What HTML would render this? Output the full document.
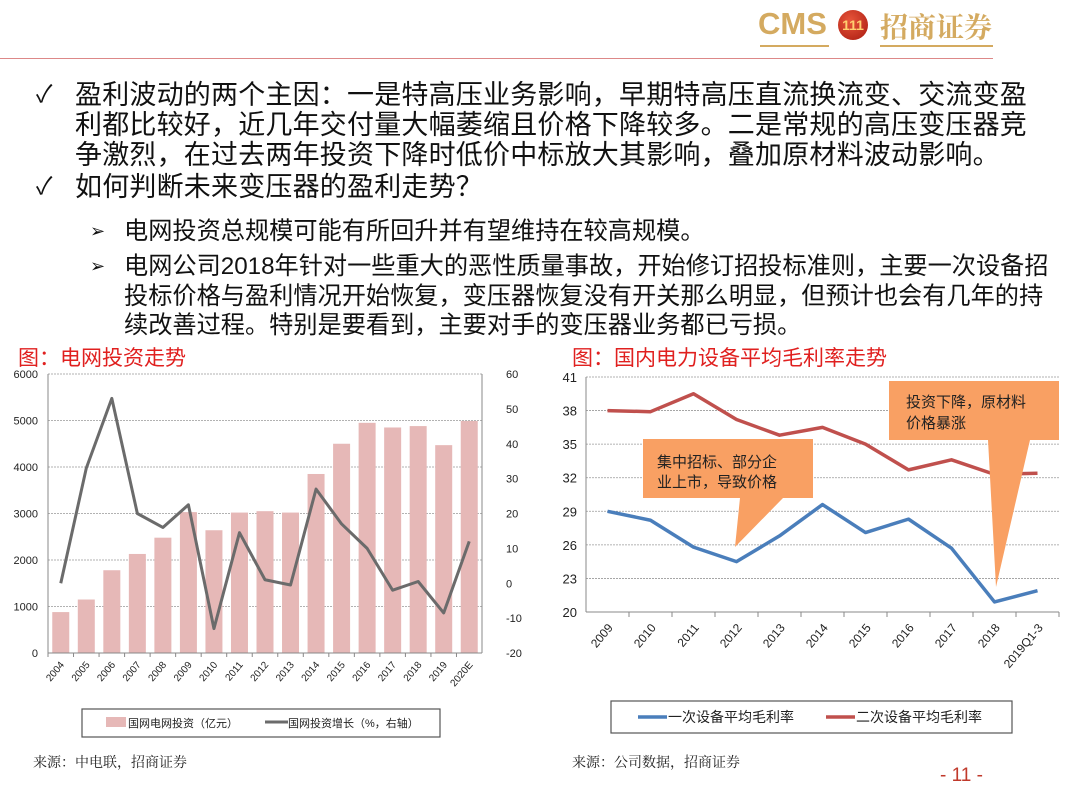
<!DOCTYPE html>
<html><head><meta charset="utf-8">
<style>
body{margin:0;width:1080px;height:794px;background:#fff;position:relative;overflow:hidden;font-family:"Liberation Sans","Noto Sans CJK SC",sans-serif;}
.abs{position:absolute;white-space:nowrap;}
.main{font-size:27px;color:#111;line-height:30px;letter-spacing:0.2px;}
.sub{font-size:24.2px;color:#111;line-height:29.5px;}
.red{color:#e0201f;font-size:21px;}
.src{font-size:14px;color:#222;font-family:"Liberation Serif","Noto Serif CJK SC",serif;}
</style></head><body>
<div class="abs" style="left:758px;top:4px;height:44px;">
 <span style="font-size:31px;font-weight:bold;color:#d4aa60;position:absolute;left:0;top:2px;">CMS</span>
 <span style="position:absolute;left:80px;top:6px;width:30px;height:30px;border-radius:50%;background:radial-gradient(circle at 40% 35%,#e8553a,#a81a10);color:#ffd070;font-size:14px;font-weight:bold;text-align:center;line-height:30px;">111</span>
 <span style="font-size:28px;font-weight:bold;color:#d4aa60;position:absolute;left:122px;top:2px;font-family:'Noto Serif CJK SC',serif;">招商证券</span>
 <div style="position:absolute;left:2px;top:41px;width:69px;height:2px;background:#d4aa60"></div>
 <div style="position:absolute;left:122px;top:41px;width:113px;height:2px;background:#d4aa60"></div>
</div>
<div class="abs" style="left:0;top:58px;width:993px;height:1px;background:#d88"></div>

<div class="abs main" style="left:36px;top:80px;font-size:24px;">✓</div>
<div class="abs main" style="left:75px;top:80px;">盈利波动的两个主因：一是特高压业务影响，早期特高压直流换流变、交流变盈<br>利都比较好，近几年交付量大幅萎缩且价格下降较多。二是常规的高压变压器竞<br>争激烈，在过去两年投资下降时低价中标放大其影响，叠加原材料波动影响。</div>
<div class="abs main" style="left:36px;top:172px;font-size:24px;">✓</div>
<div class="abs main" style="left:75px;top:172px;">如何判断未来变压器的盈利走势？</div>
<div class="abs sub" style="left:90px;top:217px;font-size:18px;">➢</div>
<div class="abs sub" style="left:124px;top:217px;">电网投资总规模可能有所回升并有望维持在较高规模。</div>
<div class="abs sub" style="left:90px;top:252px;font-size:18px;">➢</div>
<div class="abs sub" style="left:124px;top:252px;">电网公司2018年针对一些重大的恶性质量事故，开始修订招投标准则，主要一次设备招<br>投标价格与盈利情况开始恢复，变压器恢复没有开关那么明显，但预计也会有几年的持<br>续改善过程。特别是要看到，主要对手的变压器业务都已亏损。</div>

<div class="abs red" style="left:18px;top:342px;">图：电网投资走势</div>
<div class="abs red" style="left:572px;top:342px;">图：国内电力设备平均毛利率走势</div>

<svg class="abs" style="left:0;top:0" width="1080" height="794" id="charts"></svg>

<div class="abs src" style="left:33px;top:752px;">来源：中电联，招商证券</div>
<div class="abs src" style="left:572px;top:752px;">来源：公司数据，招商证券</div>
<div class="abs" style="left:940px;top:765px;font-size:19px;color:#c0392b;">- 11 -</div>

<script>
const years=["2004","2005","2006","2007","2008","2009","2010","2011","2012","2013","2014","2015","2016","2017","2018","2019","2020E"];
const invest=[880,1150,1780,2130,2480,3030,2640,3020,3050,3020,3850,4500,4950,4850,4880,4470,4990];
const growth=[0,33,53,20,16,22.5,-13,14.5,1,-0.5,27,17,10,-2,0.5,-8.5,12];
const leftTicks=[0,1000,2000,3000,4000,5000,6000];
const rightTicks=[-20,-10,0,10,20,30,40,50,60];
const cats2=["2009","2010","2011","2012","2013","2014","2015","2016","2017","2018","2019Q1-3"];
const primary=[29.0,28.2,25.8,24.5,26.8,29.6,27.1,28.3,25.7,20.9,21.9];
const secondary=[38.0,37.9,39.5,37.2,35.8,36.5,35.0,32.7,33.6,32.3,32.4];
const marginTicks=[20,23,26,29,32,35,38,41];

const svg=document.getElementById('charts');
const NS='http://www.w3.org/2000/svg';
function mk(tag,attrs,parent){const e=document.createElementNS(NS,tag);for(const k in attrs)e.setAttribute(k,attrs[k]);(parent||svg).appendChild(e);return e;}
function txt(x,y,s,attrs){const t=mk('text',Object.assign({x:x,y:y,'font-size':11,fill:'#222','font-family':'Liberation Sans, Noto Sans CJK SC, sans-serif'},attrs||{}));t.textContent=s;return t;}

// ---- Left chart
const L={x0:48,x1:482,y0:653,y1:374};
const ly=v=>L.y0-(v-0)/6000*(L.y0-L.y1);
const ry=v=>L.y0-(v+20)/80*(L.y0-L.y1);
const bw=(L.x1-L.x0)/years.length;
const lx=i=>L.x0+bw*(i+0.5);
leftTicks.forEach(t=>{
 if(t>0){const g=mk('line',{x1:L.x0,x2:L.x1,y1:ly(t),y2:ly(t),stroke:'#999','stroke-dasharray':'2,1','stroke-width':0.8});}
 const lb=txt(38,ly(t)+4,String(t),{'text-anchor':'end'});
 
});
rightTicks.forEach(t=>{
 const lb=txt(506,ry(t)+4,String(t),{'text-anchor':'start'});
 
});
invest.forEach((v,i)=>{
 const r=mk('rect',{x:lx(i)-8.5,y:ly(v),width:17,height:L.y0-ly(v),fill:'#e6b8b7'});
 
});
mk('line',{x1:L.x0,x2:L.x0,y1:L.y1,y2:L.y0,stroke:'#888'});
mk('line',{x1:L.x1,x2:L.x1,y1:L.y1,y2:L.y0,stroke:'#888'});
mk('line',{x1:L.x0,x2:L.x1,y1:L.y0,y2:L.y0,stroke:'#888'});
years.forEach((y,i)=>{
 mk('line',{x1:L.x0+bw*i,x2:L.x0+bw*i,y1:L.y0,y2:L.y0+4,stroke:'#888'});
 const t=txt(lx(i)+4,L.y0+12,y,{'text-anchor':'end','font-size':10,transform:`rotate(-50 ${lx(i)+4} ${L.y0+12})`});
 
});
const gl=mk('polyline',{points:growth.map((v,i)=>lx(i)+','+ry(v)).join(' '),fill:'none',stroke:'#6b6b6b','stroke-width':3,'stroke-linejoin':'round'});

const leg1=mk('rect',{x:82,y:709,width:358,height:28,fill:'#fff',stroke:'#555','stroke-width':1.2});

mk('rect',{x:106,y:717,width:20,height:10,fill:'#e6b8b7'});
txt(128,727,'国网电网投资（亿元）',{'font-size':11});
mk('line',{x1:265,x2:288,y1:722,y2:722,stroke:'#6b6b6b','stroke-width':3});
txt(288,727,'国网投资增长（%，右轴）',{'font-size':11});

// ---- Right chart
const R={x0:586,x1:1059,y0:612,y1:377};
const my=v=>R.y0-(v-20)/21*(R.y0-R.y1);
const cw=(R.x1-R.x0)/cats2.length;
const mx=i=>R.x0+cw*(i+0.5);
marginTicks.forEach(t=>{
 if(t>20){const g=mk('line',{x1:R.x0,x2:R.x1,y1:my(t),y2:my(t),stroke:'#999','stroke-dasharray':'2,1','stroke-width':0.8});}
 const lb=txt(577,my(t)+5,String(t),{'text-anchor':'end','font-size':13});
 
});
mk('line',{x1:R.x0,x2:R.x0,y1:R.y1,y2:R.y0,stroke:'#888'});
mk('line',{x1:R.x0,x2:R.x1,y1:R.y0,y2:R.y0,stroke:'#888'});
cats2.forEach((c,i)=>{
 mk('line',{x1:R.x0+cw*(i+1),x2:R.x0+cw*(i+1),y1:R.y0,y2:R.y0+5,stroke:'#888'});
 const t=txt(mx(i)+6,R.y0+16,c,{'text-anchor':'end','font-size':12,transform:`rotate(-50 ${mx(i)+6} ${R.y0+16})`});
 
});
const rl=mk('polyline',{points:secondary.map((v,i)=>mx(i)+','+my(v)).join(' '),fill:'none',stroke:'#c0504d','stroke-width':3.5,'stroke-linejoin':'round'});

const bl=mk('polyline',{points:primary.map((v,i)=>mx(i)+','+my(v)).join(' '),fill:'none',stroke:'#4a7ebb','stroke-width':3.5,'stroke-linejoin':'round'});

// callouts
const c1=mk('path',{d:'M643,439 H813 V498 H783 L735,547 L740,498 H643 Z',fill:'#f9a063'});

txt(657,467,'集中招标、部分企',{'font-size':15,fill:'#222'});
txt(657,487,'业上市，导致价格',{'font-size':15,fill:'#222'});
const c2=mk('path',{d:'M889,381 H1059 V440 H1030 L996,587 L988,440 H889 Z',fill:'#f9a063'});

txt(906,407,'投资下降，原材料',{'font-size':15,fill:'#222'});
txt(906,428,'价格暴涨',{'font-size':15,fill:'#222'});
const leg2=mk('rect',{x:611,y:701,width:401,height:32,fill:'#fff',stroke:'#555','stroke-width':1.2});

mk('line',{x1:638,x2:667,y1:717,y2:717,stroke:'#4a7ebb','stroke-width':3.5});
txt(668,722,'一次设备平均毛利率',{'font-size':14});
mk('line',{x1:826,x2:855,y1:717,y2:717,stroke:'#c0504d','stroke-width':3.5});
txt(856,722,'二次设备平均毛利率',{'font-size':14});
</script>
</body></html>
